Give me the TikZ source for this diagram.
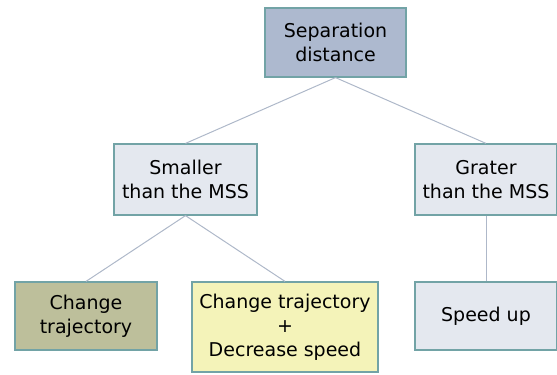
\documentclass[tikz,border=0pt]{standalone}
\usepackage{fontspec}
\setmainfont{DejaVu Sans}
\definecolor{bordc}{HTML}{72A3A6}
\definecolor{linec}{HTML}{AEB8C9}
\definecolor{topfill}{HTML}{ADB9CF}
\definecolor{lightfill}{HTML}{E4E8EF}
\definecolor{olivefill}{HTML}{BDBF9B}
\definecolor{yellowfill}{HTML}{F4F3B9}
\begin{document}
\begin{tikzpicture}[x=1bp,y=-1bp,
  box/.style={draw=bordc, line width=1.2bp, align=center, inner sep=0pt,
    font=\fontsize{19bp}{24bp}\selectfont, text=black},
  conn/.style={draw=linec, line width=1bp}]
\useasboundingbox (0,0) rectangle (557,374);
\node[box, fill=topfill, minimum width=141bp, minimum height=69bp] (sep) at (335.5,42.5) {Separation\\distance};
\node[box, fill=lightfill, minimum width=143bp, minimum height=71bp] (sm) at (185.5,179.5) {Smaller\\than the MSS};
\node[box, fill=lightfill, minimum width=142bp, minimum height=71bp] (gr) at (486,179.5) {Grater\\than the MSS};
\node[box, fill=olivefill, minimum width=142bp, minimum height=68bp] (ct) at (86,316) {Change\\trajectory};
\node[box, fill=yellowfill, minimum width=186bp, minimum height=90bp] (cd) at (285,327) {Change trajectory\\+\\Decrease speed};
\node[box, fill=lightfill, minimum width=142bp, minimum height=68bp] (su) at (486,316) {Speed up};
\draw[conn] (sep.south) -- (sm.north);
\draw[conn] (sep.south) -- (gr.north);
\draw[conn] (sm.south) -- (ct.north);
\draw[conn] (sm.south) -- (cd.north);
\draw[conn] (gr.south) -- (su.north);
\end{tikzpicture}
\end{document}
